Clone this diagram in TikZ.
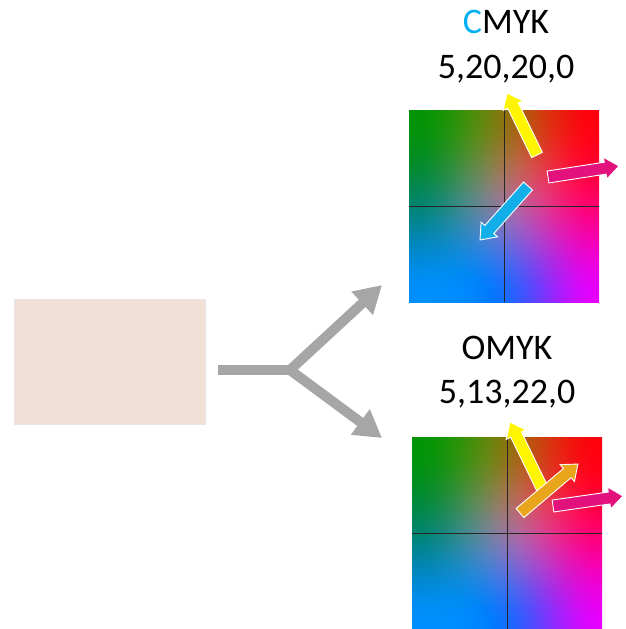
\documentclass[tikz,border=0pt]{standalone}
\usepackage{fontspec}
\setmainfont{Carlito}
\usetikzlibrary{arrows.meta}

\definecolor{swatchfill}{HTML}{F2E0D6}
\definecolor{swatchline}{HTML}{E3E7EA}
\definecolor{forkgray}{HTML}{A6A6A6}
\definecolor{inkcyan}{HTML}{00B0F0}
\definecolor{arrowyellow}{HTML}{FFF500}
\definecolor{arrowmagenta}{HTML}{E2117C}
\definecolor{arrowcyan}{HTML}{12AEEA}
\definecolor{arroworange}{HTML}{E9A61C}

% one colour channel of a biquadratic blend over a 3x3 grid of values
% (stack on entry: a0 a1 a2 w0 w1 w2; the result is rolled under them)
\newcommand\huechan[9]{0
 6 index 4 index mul #1 mul add 5 index 4 index mul #2 mul add 4 index 4 index mul #3 mul add
 6 index 3 index mul #4 mul add 5 index 3 index mul #5 mul add 4 index 3 index mul #6 mul add
 6 index 2 index mul #7 mul add 5 index 2 index mul #8 mul add 4 index 2 index mul #9 mul add
 7 1 roll }
% smoothstep of the value on top of the stack
\newcommand\smoothtop{dup dup mul exch 2 mul 3 exch sub mul }

% hue chart: green / red on top, blue / violet below
\pgfdeclarefunctionalshading{huechart}{\pgfpointorigin}{\pgfpoint{100bp}{100bp}}{}{
 25 sub 50 div exch 25 sub 50 div
 \smoothtop exch \smoothtop exch
 dup 0.5 sub 1 index 1 sub mul 2 mul
 1 index 1 1 index sub mul 4 mul
 2 index dup 0.5 sub mul 2 mul
 4 -1 roll pop 4 -1 roll
 dup 0.5 sub 1 index 1 sub mul 2 mul
 1 index 1 1 index sub mul 4 mul
 2 index dup 0.5 sub mul 2 mul
 4 -1 roll pop
 \huechan{0}{0.08}{0.9}{0}{0.6}{1}{0}{0.55}{1}
 \huechan{0.56}{0.42}{0}{0.52}{0.45}{0}{0.58}{0.45}{0}
 \huechan{1}{1}{1}{0.45}{0.62}{0.45}{0.02}{0.05}{0.05}
 pop pop pop pop pop pop
}

% straight block arrow: colour, tail x, tail y, tip x, tip y
\newcommand\blockarrow[5]{%
  \pgfmathsetmacro\baang{atan2((#5)-(#3),(#4)-(#2))}%
  \pgfmathsetmacro\balen{veclen((#4)-(#2),(#5)-(#3))}%
  \begin{scope}[shift={(#2,#3)}, rotate=\baang]
    \filldraw[fill=#1, draw=white, line width=0.9pt, line join=miter]
      (0,-6) -- (\balen-14,-6) -- (\balen-14,-11) -- (\balen,0)
      -- (\balen-14,11) -- (\balen-14,6) -- (0,6) -- cycle;
  \end{scope}}

\tikzset{
  chart/.style={shade, shading=huechart, minimum width=190pt, minimum height=192pt,
    inner sep=0pt, anchor=north west},
  crosshair/.style={draw=black!85, line width=1.4pt},
  caption/.style={font=\fontsize{36}{40}\selectfont, anchor=base, inner sep=0pt},
  fork/.style={draw=forkgray, line width=10pt},
  forktip/.style={fork, -{Triangle[length=27pt, width=30pt]}},
}

\begin{document}
\begin{tikzpicture}[x=1pt, y=1pt]
  \useasboundingbox (0,0) rectangle (625,-629);

  % colour swatch
  \node[fill=swatchfill, draw=swatchline, line width=1pt, minimum width=191pt,
        minimum height=125pt, inner sep=0pt, anchor=north west] (swatch) at (14,-299) {};

  % forked connector
  \coordinate (stem) at (218,-370);
  \coordinate (fork) at (290,-370);
  \coordinate (upend) at (382,-285);
  \coordinate (downend) at (382,-438);
  \draw[fork] (stem) -- (fork);
  \draw[forktip] (fork) -- (upend);
  \draw[forktip] (fork) -- (downend);

  % upper chart
  \node[caption] (cmykname) at (506,-33) {\textcolor{inkcyan}{C}MYK};
  \node[caption] (cmykvals) at (506,-78) {5,20,20,0};
  \node[chart] (cmykchart) at (409,-110) {};
  \draw[crosshair] (cmykchart.north) -- (cmykchart.south);
  \draw[crosshair] (cmykchart.west) -- (cmykchart.east);
  \blockarrow{arrowyellow}{537}{-155}{507}{-93}
  \blockarrow{arrowmagenta}{548}{-177}{619}{-166}
  \blockarrow{arrowcyan}{528}{-186}{480}{-240}

  % lower chart
  \node[caption] (omykname) at (507,-359) {OMYK};
  \node[caption] (omykvals) at (507,-403) {5,13,22,0};
  \node[chart] (omykchart) at (412,-437) {};
  \draw[crosshair] (omykchart.north) -- (omykchart.south);
  \draw[crosshair] (omykchart.west) -- (omykchart.east);
  \blockarrow{arrowyellow}{542}{-488}{510}{-422}
  \blockarrow{arrowmagenta}{553}{-506}{623}{-496}
  \blockarrow{arroworange}{520}{-513}{578}{-464}
\end{tikzpicture}
\end{document}
